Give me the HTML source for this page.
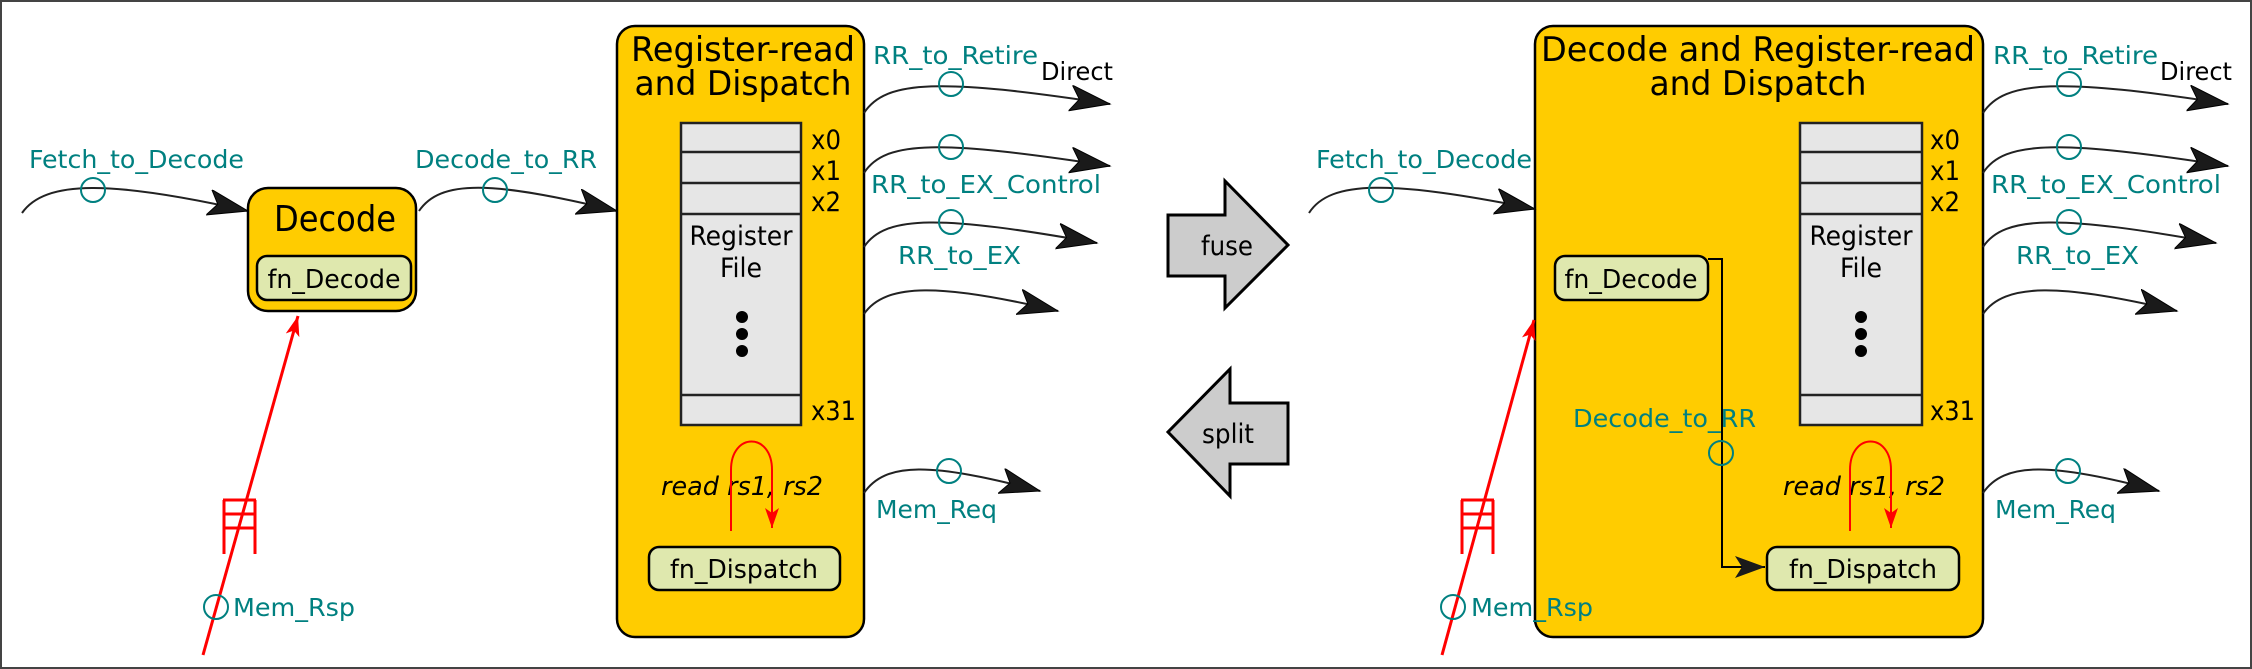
<!DOCTYPE html>
<html><head><meta charset="utf-8"><style>
html,body{margin:0;padding:0;background:#fff}
svg{display:block}
text{font-family:"DejaVu Sans Condensed","Liberation Sans",sans-serif}
.t{fill:#008080;font-size:25px}
.k{fill:#000}
</style></head><body>
<svg width="2252" height="669" viewBox="0 0 2252 669" xmlns="http://www.w3.org/2000/svg">
<defs>
<marker id="ah" markerUnits="userSpaceOnUse" markerWidth="46" markerHeight="30" refX="40" refY="13" orient="auto">
<path d="M0,0 L40,13 L0,26 L9,13 z" fill="#1a1a1a" stroke="#000" stroke-width="1"/>
</marker>
<marker id="ah2" markerUnits="userSpaceOnUse" markerWidth="46" markerHeight="30" refX="30" refY="11" orient="auto">
<path d="M0,0 L30,11 L0,22 L7,11 z" fill="#1a1a1a"/>
</marker>
<marker id="rh" markerUnits="userSpaceOnUse" markerWidth="24" markerHeight="24" refX="20" refY="7" orient="auto">
<path d="M0,0 L20,7 L0,14 L5,7 z" fill="#f00"/>
</marker>
</defs>
<rect x="1" y="1" width="2250" height="667" fill="#fff" stroke="#444" stroke-width="2"/>

<!-- ===== LEFT ===== -->
<text class="t" x="29" y="168" textLength="215" lengthAdjust="spacingAndGlyphs">Fetch_to_Decode</text>
<path d="M22,213 C45,180 110,180 248,211" fill="none" stroke="#222" stroke-width="2" marker-end="url(#ah)"/>
<circle cx="93" cy="190" r="12" fill="none" stroke="#008080" stroke-width="2"/>

<rect x="248" y="188" width="168" height="123" rx="20" fill="#FFCC00" stroke="#000" stroke-width="2.5"/>
<text x="335" y="231" font-size="36" text-anchor="middle" textLength="122" lengthAdjust="spacingAndGlyphs">Decode</text>
<rect x="257" y="256" width="154" height="44" rx="10" fill="#DFE8AE" stroke="#000" stroke-width="2.5"/>
<text x="334" y="288" font-size="26" text-anchor="middle" textLength="133" lengthAdjust="spacingAndGlyphs">fn_Decode</text>

<text class="t" x="415" y="168" textLength="182" lengthAdjust="spacingAndGlyphs">Decode_to_RR</text>
<path d="M419,211 C440,180 490,180 617,211" fill="none" stroke="#222" stroke-width="2" marker-end="url(#ah)"/>
<circle cx="495" cy="190" r="12" fill="none" stroke="#008080" stroke-width="2"/>

<path d="M203,655 L298,316" stroke="#f00" stroke-width="3" fill="none" marker-end="url(#rh)"/>
<g stroke="#f00" stroke-width="3" fill="none"><path d="M224,500 V554 M255,500 V554 M223,500 H256 M223,514 H256 M223,528 H256"/></g>
<circle cx="216" cy="607" r="12" fill="none" stroke="#008080" stroke-width="2"/>
<text class="t" x="233" y="616" textLength="122" lengthAdjust="spacingAndGlyphs">Mem_Rsp</text>

<rect x="617" y="26" width="247" height="611" rx="18" fill="#FFCC00" stroke="#000" stroke-width="2.5"/>
<text x="743" y="61" font-size="34" text-anchor="middle" textLength="224" lengthAdjust="spacingAndGlyphs">Register-read</text>
<text x="743" y="95" font-size="34" text-anchor="middle" textLength="217" lengthAdjust="spacingAndGlyphs">and Dispatch</text>
<rect x="681" y="123" width="120" height="302" fill="#E6E6E6" stroke="#222" stroke-width="2.5"/>
<path d="M681,152 H801 M681,183 H801 M681,214 H801 M681,395 H801" stroke="#222" stroke-width="2.5"/>
<text x="811" y="149" font-size="27" textLength="30" lengthAdjust="spacingAndGlyphs">x0</text>
<text x="811" y="180" font-size="27" textLength="30" lengthAdjust="spacingAndGlyphs">x1</text>
<text x="811" y="211" font-size="27" textLength="30" lengthAdjust="spacingAndGlyphs">x2</text>
<text x="811" y="420" font-size="27" textLength="45" lengthAdjust="spacingAndGlyphs">x31</text>
<text x="741" y="245" font-size="27" text-anchor="middle" textLength="103" lengthAdjust="spacingAndGlyphs">Register</text>
<text x="741" y="277" font-size="27" text-anchor="middle" textLength="42" lengthAdjust="spacingAndGlyphs">File</text>
<circle cx="742" cy="317" r="6"/><circle cx="742" cy="334" r="6"/><circle cx="742" cy="351" r="6"/>
<text x="742" y="495" font-size="26" font-style="italic" text-anchor="middle" textLength="162" lengthAdjust="spacingAndGlyphs">read rs1, rs2</text>
<path d="M731,531 V470 C731,432 772,432 772,470 V528" fill="none" stroke="#f00" stroke-width="2" marker-end="url(#rh)"/>
<rect x="649" y="547" width="191" height="43" rx="10" fill="#DFE8AE" stroke="#000" stroke-width="2.5"/>
<text x="744" y="578" font-size="26" text-anchor="middle" textLength="148" lengthAdjust="spacingAndGlyphs">fn_Dispatch</text>

<g fill="none" stroke="#222" stroke-width="2">
<path d="M864,113 C885,80 940,78 1110,104" marker-end="url(#ah)"/>
<path d="M864,173 C885,140 940,140 1110,166" marker-end="url(#ah)"/>
<path d="M864,247 C885,215 940,215 1097,243" marker-end="url(#ah)"/>
<path d="M864,314 C885,283 940,283 1058,311" marker-end="url(#ah)"/>
<path d="M864,493 C885,462 930,462 1040,491" marker-end="url(#ah)"/>
</g>
<g fill="none" stroke="#008080" stroke-width="2">
<circle cx="951" cy="84" r="12"/><circle cx="951" cy="147" r="12"/><circle cx="951" cy="222" r="12"/><circle cx="949" cy="471" r="12"/>
</g>
<text class="t" x="873" y="64" textLength="165" lengthAdjust="spacingAndGlyphs">RR_to_Retire</text>
<text x="1041" y="80" font-size="25" textLength="72" lengthAdjust="spacingAndGlyphs">Direct</text>
<text class="t" x="871" y="193" textLength="230" lengthAdjust="spacingAndGlyphs">RR_to_EX_Control</text>
<text class="t" x="898" y="264" textLength="123" lengthAdjust="spacingAndGlyphs">RR_to_EX</text>
<text class="t" x="876" y="518" textLength="121" lengthAdjust="spacingAndGlyphs">Mem_Req</text>

<path d="M1168,215 H1225 V181 L1288,245 L1225,308 V276 H1168 Z" fill="#CCCCCC" stroke="#000" stroke-width="3"/>
<text x="1227" y="255" font-size="27" text-anchor="middle" textLength="52" lengthAdjust="spacingAndGlyphs">fuse</text>
<path d="M1288,403 H1230 V369 L1168,432 L1230,496 V464 H1288 Z" fill="#CCCCCC" stroke="#000" stroke-width="3"/>
<text x="1228" y="443" font-size="27" text-anchor="middle" textLength="52" lengthAdjust="spacingAndGlyphs">split</text>

<!-- ===== RIGHT ===== -->
<rect x="1535" y="26" width="448" height="611" rx="18" fill="#FFCC00" stroke="#000" stroke-width="2.5"/>
<text x="1758" y="61" font-size="34" text-anchor="middle" textLength="434" lengthAdjust="spacingAndGlyphs">Decode and Register-read</text>
<text x="1758" y="95" font-size="34" text-anchor="middle" textLength="217" lengthAdjust="spacingAndGlyphs">and Dispatch</text>

<text class="t" x="1316" y="168" textLength="216" lengthAdjust="spacingAndGlyphs">Fetch_to_Decode</text>
<path d="M1309,213 C1330,180 1390,180 1535,209" fill="none" stroke="#222" stroke-width="2" marker-end="url(#ah)"/>
<circle cx="1381" cy="190" r="12" fill="none" stroke="#008080" stroke-width="2"/>

<rect x="1555" y="256" width="153" height="44" rx="10" fill="#DFE8AE" stroke="#000" stroke-width="2.5"/>
<text x="1631" y="288" font-size="26" text-anchor="middle" textLength="133" lengthAdjust="spacingAndGlyphs">fn_Decode</text>
<path d="M1708,259 H1722 V567 H1765" fill="none" stroke="#000" stroke-width="2" marker-end="url(#ah2)"/>
<text class="t" x="1573" y="427" textLength="183" lengthAdjust="spacingAndGlyphs">Decode_to_RR</text>
<circle cx="1721" cy="453" r="12" fill="none" stroke="#008080" stroke-width="2"/>

<rect x="1800" y="123" width="122" height="302" fill="#E6E6E6" stroke="#222" stroke-width="2.5"/>
<path d="M1800,152 H1922 M1800,183 H1922 M1800,214 H1922 M1800,395 H1922" stroke="#222" stroke-width="2.5"/>
<text x="1930" y="149" font-size="27" textLength="30" lengthAdjust="spacingAndGlyphs">x0</text>
<text x="1930" y="180" font-size="27" textLength="30" lengthAdjust="spacingAndGlyphs">x1</text>
<text x="1930" y="211" font-size="27" textLength="30" lengthAdjust="spacingAndGlyphs">x2</text>
<text x="1930" y="420" font-size="27" textLength="45" lengthAdjust="spacingAndGlyphs">x31</text>
<text x="1861" y="245" font-size="27" text-anchor="middle" textLength="103" lengthAdjust="spacingAndGlyphs">Register</text>
<text x="1861" y="277" font-size="27" text-anchor="middle" textLength="42" lengthAdjust="spacingAndGlyphs">File</text>
<circle cx="1861" cy="317" r="6"/><circle cx="1861" cy="334" r="6"/><circle cx="1861" cy="351" r="6"/>
<text x="1864" y="495" font-size="26" font-style="italic" text-anchor="middle" textLength="162" lengthAdjust="spacingAndGlyphs">read rs1, rs2</text>
<path d="M1850,531 V470 C1850,432 1891,432 1891,470 V528" fill="none" stroke="#f00" stroke-width="2" marker-end="url(#rh)"/>
<rect x="1767" y="547" width="192" height="43" rx="10" fill="#DFE8AE" stroke="#000" stroke-width="2.5"/>
<text x="1863" y="578" font-size="26" text-anchor="middle" textLength="148" lengthAdjust="spacingAndGlyphs">fn_Dispatch</text>

<path d="M1442,655 L1534,320" stroke="#f00" stroke-width="3" fill="none" marker-end="url(#rh)"/>
<g stroke="#f00" stroke-width="3" fill="none"><path d="M1462,500 V554 M1493,500 V554 M1461,500 H1494 M1461,514 H1494 M1461,528 H1494"/></g>
<circle cx="1453" cy="607" r="12" fill="none" stroke="#008080" stroke-width="2"/>
<text class="t" x="1471" y="616" textLength="122" lengthAdjust="spacingAndGlyphs">Mem_Rsp</text>

<g fill="none" stroke="#222" stroke-width="2">
<path d="M1983,113 C2004,80 2060,78 2228,104" marker-end="url(#ah)"/>
<path d="M1983,173 C2004,140 2060,140 2228,166" marker-end="url(#ah)"/>
<path d="M1983,247 C2004,215 2060,215 2216,243" marker-end="url(#ah)"/>
<path d="M1983,314 C2004,283 2060,283 2177,311" marker-end="url(#ah)"/>
<path d="M1983,493 C2004,462 2050,462 2159,491" marker-end="url(#ah)"/>
</g>
<g fill="none" stroke="#008080" stroke-width="2">
<circle cx="2069" cy="84" r="12"/><circle cx="2069" cy="147" r="12"/><circle cx="2069" cy="222" r="12"/><circle cx="2068" cy="471" r="12"/>
</g>
<text class="t" x="1993" y="64" textLength="165" lengthAdjust="spacingAndGlyphs">RR_to_Retire</text>
<text x="2160" y="80" font-size="25" textLength="72" lengthAdjust="spacingAndGlyphs">Direct</text>
<text class="t" x="1991" y="193" textLength="230" lengthAdjust="spacingAndGlyphs">RR_to_EX_Control</text>
<text class="t" x="2016" y="264" textLength="123" lengthAdjust="spacingAndGlyphs">RR_to_EX</text>
<text class="t" x="1995" y="518" textLength="121" lengthAdjust="spacingAndGlyphs">Mem_Req</text>
</svg>
</body></html>
